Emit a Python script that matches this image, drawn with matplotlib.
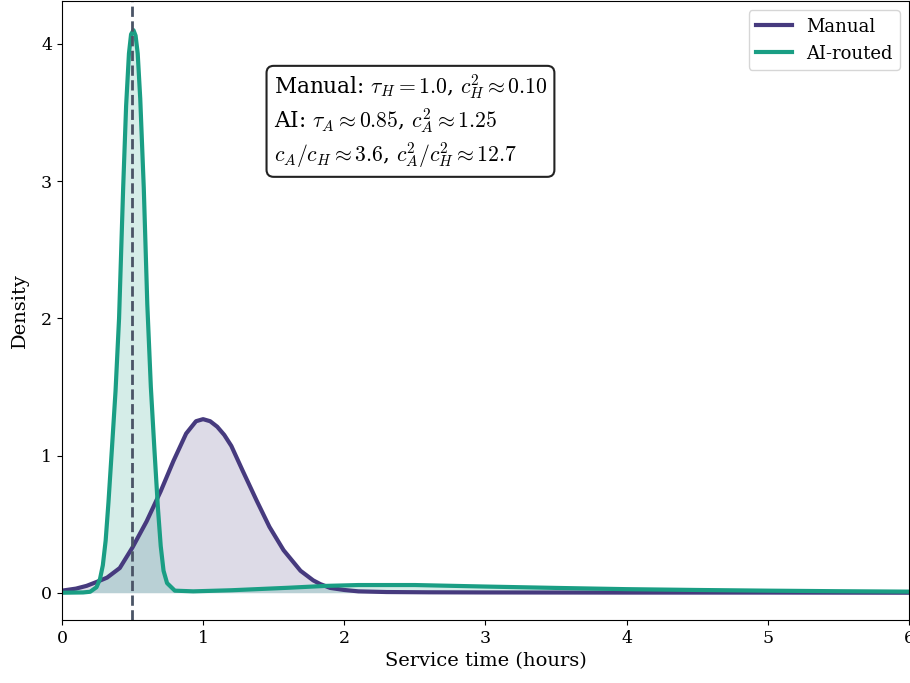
import matplotlib
matplotlib.use("Agg")
import matplotlib.pyplot as plt

# ── Palette & config ─────────────────────────────────────────────────────────
PURPLE = "#463a7e"
TEAL = "#1a9e84"
VLINE = "#4a5466"
DARK = "#222222"

plt.rcParams.update({
    "font.family": "serif",
    "font.serif": ["DejaVu Serif"],
    "mathtext.fontset": "cm",
})

# ── Data ─────────────────────────────────────────────────────────────────────
manual_x = [0.0, 0.1, 0.175, 0.25, 0.32, 0.41, 0.5, 0.6, 0.7, 0.79, 0.88, 0.95,
            1.0, 1.05, 1.1, 1.15, 1.2, 1.28, 1.38, 1.47, 1.57, 1.69, 1.78, 1.83, 1.9,
            2.0, 2.1, 2.3, 2.6, 3.0, 4.0, 5.0, 6.0]
manual_y = [0.015, 0.03, 0.05, 0.08, 0.11, 0.18, 0.33, 0.52, 0.74, 0.96, 1.16, 1.25,
            1.265, 1.25, 1.21, 1.15, 1.07, 0.89, 0.67, 0.48, 0.31, 0.16, 0.09, 0.063, 0.035,
            0.02, 0.01, 0.005, 0.003, 0.002, 0.001, 0.001, 0.0]

ai_x = [0.0, 0.15, 0.2, 0.245, 0.27, 0.29, 0.31, 0.33, 0.355, 0.38, 0.405, 0.434, 0.455,
        0.475, 0.49, 0.507, 0.522, 0.537, 0.555, 0.58, 0.605, 0.63, 0.655, 0.68,
        0.7, 0.72, 0.745, 0.8, 0.93, 1.2, 1.4, 1.6, 1.875, 2.1, 2.5, 3.0, 3.5, 4.0, 4.5,
        5.0, 5.5, 6.0]
ai_y = [0.0, 0.002, 0.007, 0.04, 0.1, 0.2, 0.38, 0.66, 1.06, 1.47, 2.0, 2.95, 3.55,
        3.93, 4.07, 4.10, 4.06, 3.93, 3.6, 2.95, 2.1, 1.5, 1.05, 0.62,
        0.34, 0.16, 0.07, 0.015, 0.01, 0.018, 0.027, 0.036, 0.05, 0.056, 0.056, 0.045, 0.035,
        0.026, 0.02, 0.015, 0.011, 0.008]

ai_mode = 0.5
stats_text = (r"Manual: $\tau_H = 1.0$, $c_H^2 \approx 0.10$" "\n"
              r"AI: $\tau_A \approx 0.85$, $c_A^2 \approx 1.25$" "\n"
              r"$c_A/c_H \approx 3.6$, $c_A^2/c_H^2 \approx 12.7$")

# ── Plot ─────────────────────────────────────────────────────────────────────
fig = plt.figure(figsize=(9.1, 6.83), dpi=100)
ax = fig.add_axes([0.068, 0.092, 0.931, 0.906])

ax.fill_between(manual_x, manual_y, color=PURPLE, alpha=0.18, linewidth=0)
ax.fill_between(ai_x, ai_y, color=TEAL, alpha=0.18, linewidth=0)
ax.plot(manual_x, manual_y, color=PURPLE, linewidth=3, label="Manual")
ax.plot(ai_x, ai_y, color=TEAL, linewidth=3, label="AI-routed")
ax.axvline(ai_mode, color=VLINE, linestyle="--", linewidth=2)

ax.text(0.25, 0.885, stats_text, transform=ax.transAxes, fontsize=15.6,
        va="top", ha="left", linespacing=1.2,
        bbox=dict(boxstyle="round,pad=0.33", facecolor="white",
                  edgecolor=DARK, linewidth=1.5))

ax.set_xlim(0, 6)
ax.set_ylim(-0.2, 4.31)
ax.set_xlabel("Service time (hours)", fontsize=14)
ax.set_ylabel("Density", fontsize=14, labelpad=9)
ax.tick_params(labelsize=12.5)
ax.legend(loc="upper right", fontsize=13)

fig.savefig("out.png", dpi=100, facecolor="white")
